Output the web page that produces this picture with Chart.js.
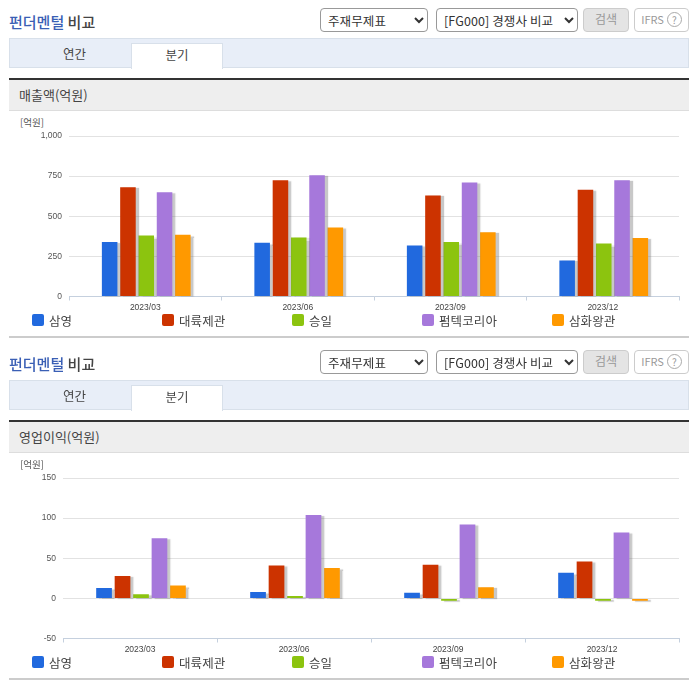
<!DOCTYPE html>
<html>
<head>
<meta charset="utf-8">
<script src="https://cdn.jsdelivr.net/npm/chart.js@4"></script>
<style>
  html, body { margin: 0; padding: 0; background: #fff; }
  body { width: 696px; height: 684px; position: relative; overflow: hidden;
         font-family: "Noto Sans CJK KR", sans-serif; color: #444; }
  .block { position: absolute; left: 0; width: 696px; height: 342px; }
  .title { position: absolute; left: 9px; top: 12px; font-size: 15px; line-height: 20px; font-weight: 500; }
  .title b { color: #3a5fb5; font-weight: 500; }
  select { position: absolute; top: 8px; height: 24px; font: 12.5px "Noto Sans CJK KR", sans-serif; color: #333;
           background: #fff; border: 1px solid #999; border-radius: 4px; padding: 0 0 0 3px; letter-spacing: 0.1px; }
  .btn { position: absolute; top: 8px; height: 22px; line-height: 20px; text-align: center; font-size: 12px;
         border: 1px solid #ccc; border-radius: 4px; color: #999; }
  .btn em { display: inline-block; width: 13px; height: 13px; line-height: 13px; margin-left: 3px; border: 1px solid #aaa;
            border-radius: 50%; font-style: normal; font-size: 10px; vertical-align: 0; }
  .tabs { position: absolute; left: 9px; top: 38px; width: 678px; height: 28px; background: #e8eef8; border: 1px solid #d8e0ea; }
  .tab { position: absolute; top: 4px; height: 24px; line-height: 22px; text-align: center; font-size: 12.5px; color: #444; }
  .tab.on { background: #fff; border: 1px solid #d8e0ea; border-bottom: 0; top: 4px; height: 25px; }
  .head { position: absolute; left: 9px; top: 78px; width: 680px; height: 30px; background: #eee;
          border-top: 2px solid #333; border-bottom: 1px solid #ddd; line-height: 30px; font-size: 13px; color: #444; }
  .head span { margin-left: 10px; }
  .unit { position: absolute; left: 20px; top: 115px; font-size: 9.5px; line-height: 14px; color: #555; }
  canvas { position: absolute; left: 10px; top: 126px; }
  .lg { position: absolute; top: 313px; font-size: 12.5px; line-height: 15px; color: #444; white-space: nowrap; }
  .lg i { position: absolute; left: 0; top: 1px; width: 12px; height: 12px; border-radius: 2px; }
  .lg span { margin-left: 17px; letter-spacing: 0.1px; }
  .rule { position: absolute; left: 9px; top: 336px; width: 680px; height: 2px; background: #ccc; }
</style>
</head>
<body>
<div id="wrap"></div>
<script>
var categories = ['2023/03', '2023/06', '2023/09', '2023/12'];
var companies = ['삼영', '대륙제관', '승일', '펌텍코리아', '삼화왕관'];
var colors = ['#2169de', '#cc3300', '#8cc40f', '#a678db', '#ff9900'];

// 매출액
var sales1 = [340, 335, 318, 225];
var sales2 = [680, 725, 630, 665];
var sales3 = [380, 368, 340, 330];
var sales4 = [650, 755, 710, 725];
var sales5 = [385, 430, 400, 365];
var salesTicks = [0, 250, 500, 750, 1000];

// 영업이익
var profit1 = [13, 8, 7, 32];
var profit2 = [28, 41, 42, 46];
var profit3 = [5, 3, -3, -3];
var profit4 = [75, 104, 92, 82];
var profit5 = [16, 38, 14, -3];
var profitTicks = [-50, 0, 50, 100, 150];

// bars sit 1px right of the label and carry a light gray drop shadow
var barShadow = {
  id: 'barShadow',
  beforeDatasetsDraw: function (chart) {
    var ctx = chart.ctx;
    ctx.save();
    ctx.translate(1, 0);
    ctx.shadowColor = 'rgba(110,110,110,0.38)';
    ctx.shadowOffsetX = 3;
    ctx.shadowOffsetY = 1;
    ctx.shadowBlur = 1;
  },
  afterDatasetsDraw: function (chart) {
    chart.ctx.restore();
  }
};

function addBlock(top, heading, series, ticks, axisWidth) {
  var el = document.createElement('div');
  el.className = 'block';
  el.style.top = top + 'px';
  var legend = companies.map(function (name, i) {
    return '<div class="lg" style="left:' + (32 + i * 130) + 'px"><i style="background:' + colors[i] + '"></i><span>' + name + '</span></div>';
  }).join('');
  el.innerHTML =
    '<div class="title"><b>펀더멘털</b> 비교</div>' +
    '<select style="left:320px;width:108px"><option>주재무제표</option></select>' +
    '<select style="left:436px;width:142px"><option>[FG000] 경쟁사 비교</option></select>' +
    '<div class="btn" style="left:583px;width:44px;background:#e4e4e4">검색</div>' +
    '<div class="btn" style="left:634px;width:53px;background:#fff;font-size:11px">IFRS<em>?</em></div>' +
    '<div class="tabs"><div class="tab" style="left:0;width:129px">연간</div><div class="tab on" style="left:121px;width:90px">분기</div></div>' +
    '<div class="head"><span>' + heading + '</span></div>' +
    '<div class="unit">[억원]</div>' +
    '<canvas width="679" height="190" style="width:679px;height:190px"></canvas>' +
    legend +
    '<div class="rule"></div>';
  document.getElementById('wrap').appendChild(el);

  new Chart(el.querySelector('canvas'), {
    type: 'bar',
    plugins: [barShadow],
    data: {
      labels: categories,
      datasets: series.map(function (values, i) {
        return {
          label: companies[i],
          data: values,
          backgroundColor: colors[i],
          categoryPercentage: 0.6,
          barPercentage: 0.85
        };
      })
    },
    options: {
      responsive: false,
      animation: false,
      layout: { padding: { top: 10, right: 10 } },
      plugins: { legend: { display: false }, tooltip: { enabled: false } },
      scales: {
        x: {
          afterFit: function (scale) { scale.height = 19.5; },
          grid: { drawOnChartArea: false, tickLength: 4, color: '#c5d0de' },
          border: { color: '#c5d0de' },
          ticks: { color: '#444', font: { size: 8.5, family: 'Liberation Sans' }, padding: 2, maxRotation: 0 }
        },
        y: {
          min: ticks[0],
          max: ticks[ticks.length - 1],
          afterFit: function (scale) {
            scale.width = axisWidth;
            scale.paddingTop = 0;
            scale.paddingBottom = 0;
          },
          afterBuildTicks: function (scale) {
            scale.ticks = ticks.map(function (v) { return { value: v }; });
          },
          grid: { drawTicks: false, color: '#e2e2e2' },
          border: { display: false },
          ticks: {
            color: '#555',
            font: { size: 8.5, family: 'Liberation Sans' },
            padding: 7,
            callback: function (v) { return v.toLocaleString('en-US'); }
          }
        }
      }
    }
  });
}

addBlock(0, '매출액(억원)', [sales1, sales2, sales3, sales4, sales5], salesTicks, 59);
addBlock(342, '영업이익(억원)', [profit1, profit2, profit3, profit4, profit5], profitTicks, 53);
</script>
</body>
</html>
